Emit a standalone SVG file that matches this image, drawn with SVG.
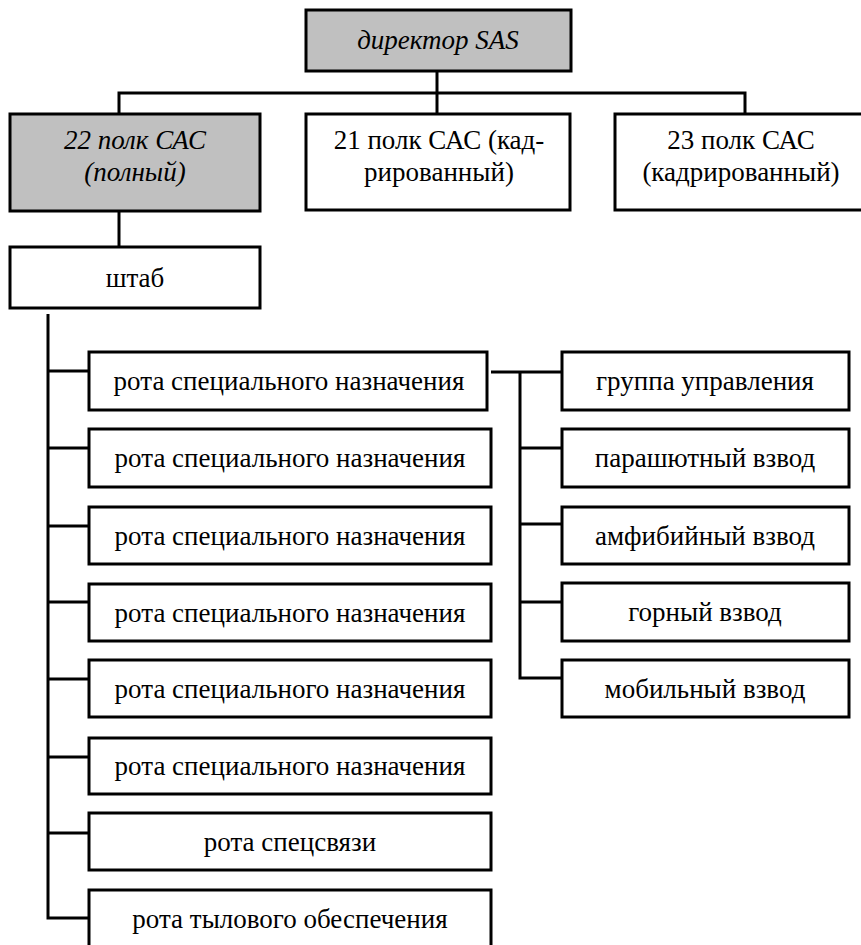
<svg xmlns="http://www.w3.org/2000/svg" width="861" height="945" viewBox="0 0 861 945">
<style>
.box{fill:#ffffff;stroke:#000000;stroke-width:3}
.gray{fill:#c0c0c0}
text{font-family:'Liberation Serif','Times New Roman','DejaVu Serif',serif;font-size:27px;fill:#000000;text-anchor:middle}
.i{font-style:italic}
.ln{fill:none;stroke:#000000;stroke-width:3;stroke-linejoin:miter}
</style>
<rect width="861" height="945" fill="#ffffff"/>
<g id="connectors">
<path class="ln" d="M437,71 V114"/>
<path class="ln" d="M119,114 V93 H745 V114"/>
<path class="ln" d="M119,211 V247"/>
<path class="ln" d="M48,314 V918 H89"/>
<path class="ln" d="M48,371 H89"/>
<path class="ln" d="M48,448 H89"/>
<path class="ln" d="M48,526 H89"/>
<path class="ln" d="M48,602 H89"/>
<path class="ln" d="M48,679 H93"/>
<path class="ln" d="M48,757 H89"/>
<path class="ln" d="M48,833 H89"/>
<path class="ln" d="M491,372 H562"/>
<path class="ln" d="M520,372 V678 H562"/>
<path class="ln" d="M520,448 H562"/>
<path class="ln" d="M520,524 H562"/>
<path class="ln" d="M520,602 H562"/>
</g>
<g id="director">
<rect class="box gray" x="306" y="10" width="265" height="61"/>
<text class="i" x="438" y="49" font-family="Liberation Serif, serif">директор SAS</text>
</g>
<g id="reg22">
<rect class="box gray" x="10" y="114" width="250" height="97"/>
<text class="i" x="135" y="149" font-family="Liberation Serif, serif">22 полк САС</text>
<text class="i" x="135" y="181" font-family="Liberation Serif, serif">(полный)</text>
</g>
<g id="reg21">
<rect class="box" x="306" y="114" width="264" height="96"/>
<text x="439" y="149" font-family="Liberation Serif, serif">21 полк САС (кад-</text>
<text x="439" y="181" font-family="Liberation Serif, serif">рированный)</text>
</g>
<g id="reg23">
<rect class="box" x="615" y="114" width="252" height="96"/>
<text x="741" y="149" font-family="Liberation Serif, serif">23 полк САС</text>
<text x="741" y="181" font-family="Liberation Serif, serif">(кадрированный)</text>
</g>
<g id="hq">
<rect class="box" x="10" y="247" width="250" height="61"/>
<text x="135" y="287" font-family="Liberation Serif, serif">штаб</text>
</g>
<g id="co1">
<rect class="box" x="89" y="352" width="398" height="58"/>
<text x="289" y="390" font-family="Liberation Serif, serif">рота специального назначения</text>
</g>
<g id="co2">
<rect class="box" x="89" y="429" width="402" height="58"/>
<text x="290" y="467" font-family="Liberation Serif, serif">рота специального назначения</text>
</g>
<g id="co3">
<rect class="box" x="89" y="507" width="402" height="57"/>
<text x="290" y="545" font-family="Liberation Serif, serif">рота специального назначения</text>
</g>
<g id="co4">
<rect class="box" x="89" y="584" width="402" height="57"/>
<text x="290" y="622" font-family="Liberation Serif, serif">рота специального назначения</text>
</g>
<g id="co5">
<rect class="box" x="89" y="660" width="402" height="57"/>
<text x="290" y="698" font-family="Liberation Serif, serif">рота специального назначения</text>
</g>
<g id="co6">
<rect class="box" x="89" y="738" width="402" height="56"/>
<text x="290" y="775" font-family="Liberation Serif, serif">рота специального назначения</text>
</g>
<g id="signals">
<rect class="box" x="89" y="813" width="402" height="57"/>
<text x="290" y="851" font-family="Liberation Serif, serif">рота спецсвязи</text>
</g>
<g id="logistics">
<rect class="box" x="89" y="890" width="402" height="60"/>
<text x="290" y="928" font-family="Liberation Serif, serif">рота тылового обеспечения</text>
</g>
<g id="command">
<rect class="box" x="562" y="352" width="287" height="58"/>
<text x="705" y="390" font-family="Liberation Serif, serif">группа управления</text>
</g>
<g id="para">
<rect class="box" x="562" y="429" width="287" height="58"/>
<text x="705" y="467" font-family="Liberation Serif, serif">парашютный взвод</text>
</g>
<g id="amph">
<rect class="box" x="562" y="507" width="287" height="57"/>
<text x="705" y="545" font-family="Liberation Serif, serif">амфибийный взвод</text>
</g>
<g id="mountain">
<rect class="box" x="562" y="583" width="287" height="58"/>
<text x="705" y="621" font-family="Liberation Serif, serif">горный взвод</text>
</g>
<g id="mobile">
<rect class="box" x="562" y="660" width="287" height="57"/>
<text x="705" y="698" font-family="Liberation Serif, serif">мобильный взвод</text>
</g>
</svg>
